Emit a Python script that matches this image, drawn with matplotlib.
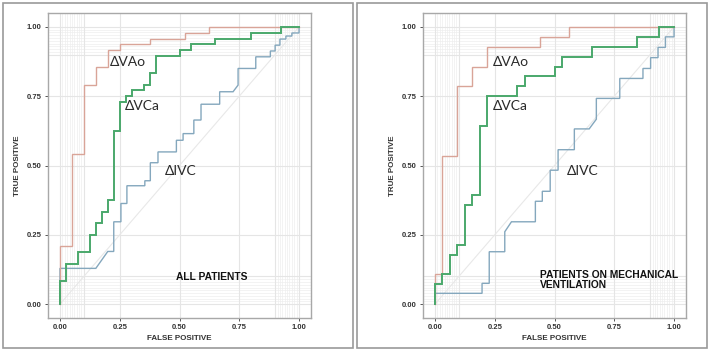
import matplotlib
matplotlib.use("Agg")
import matplotlib.pyplot as plt
from matplotlib.patches import Rectangle
import numpy as np

# ---------------- data ----------------
# left panel: all patients
all_vao_fp = [0, 0, 0.05, 0.05, 0.10, 0.10, 0.15, 0.15, 0.20, 0.20, 0.25, 0.25,
              0.375, 0.375, 0.525, 0.525, 0.625, 0.625, 1.0]
all_vao_tp = [0, 0.208, 0.208, 0.542, 0.542, 0.792, 0.792, 0.854, 0.854, 0.917,
              0.917, 0.938, 0.938, 0.958, 0.958, 0.979, 0.979, 1.0, 1.0]

all_vca_fp = [0, 0, 0.025, 0.025, 0.075, 0.075, 0.125, 0.125, 0.15, 0.15, 0.175,
              0.175, 0.20, 0.20, 0.225, 0.225, 0.25, 0.25, 0.275, 0.275, 0.30,
              0.30, 0.35, 0.35, 0.375, 0.375, 0.40, 0.40, 0.50, 0.50, 0.55, 0.55,
              0.65, 0.65, 0.80, 0.80, 0.925, 0.925, 1.0]
all_vca_tp = [0, 0.083, 0.083, 0.146, 0.146, 0.188, 0.188, 0.25, 0.25, 0.292,
              0.292, 0.333, 0.333, 0.375, 0.375, 0.625, 0.625, 0.729, 0.729, 0.75,
              0.75, 0.771, 0.771, 0.792, 0.792, 0.833, 0.833, 0.896, 0.896, 0.917,
              0.917, 0.938, 0.938, 0.958, 0.958, 0.979, 0.979, 1.0, 1.0]

all_ivc_fp = [0, 0, 0.15, 0.20, 0.225, 0.225, 0.255, 0.255, 0.28, 0.28, 0.355,
              0.355, 0.378, 0.378, 0.41, 0.41, 0.487, 0.487, 0.515, 0.515, 0.56,
              0.56, 0.59, 0.59, 0.668, 0.668, 0.724, 0.745, 0.745, 0.819, 0.819,
              0.88, 0.88, 0.90, 0.90, 0.92, 0.92, 0.945, 0.945, 0.97, 0.97, 1.0, 1.0]
all_ivc_tp = [0, 0.129, 0.129, 0.19, 0.19, 0.297, 0.297, 0.363, 0.363, 0.427,
              0.427, 0.445, 0.445, 0.51, 0.51, 0.549, 0.549, 0.591, 0.591, 0.615,
              0.615, 0.664, 0.664, 0.721, 0.721, 0.766, 0.766, 0.79, 0.85, 0.85,
              0.892, 0.892, 0.913, 0.913, 0.934, 0.934, 0.956, 0.956, 0.967, 0.967,
              0.978, 0.978, 1.0]

# right panel: patients on mechanical ventilation
mv_vao_fp = [0, 0, 0.031, 0.031, 0.094, 0.094, 0.156, 0.156, 0.219, 0.219,
             0.4375, 0.4375, 0.5625, 0.5625, 1.0]
mv_vao_tp = [0, 0.107, 0.107, 0.536, 0.536, 0.786, 0.786, 0.857, 0.857, 0.929,
             0.929, 0.964, 0.964, 1.0, 1.0]

mv_vca_fp = [0, 0, 0.031, 0.031, 0.0625, 0.0625, 0.094, 0.094, 0.125, 0.125,
             0.156, 0.156, 0.1875, 0.1875, 0.219, 0.219, 0.344, 0.344, 0.375,
             0.375, 0.50, 0.50, 0.531, 0.531, 0.656, 0.656, 0.844, 0.844, 0.9375,
             0.9375, 1.0]
mv_vca_tp = [0, 0.071, 0.071, 0.107, 0.107, 0.179, 0.179, 0.214, 0.214, 0.357,
             0.357, 0.393, 0.393, 0.643, 0.643, 0.75, 0.75, 0.786, 0.786, 0.821,
             0.821, 0.857, 0.857, 0.893, 0.893, 0.929, 0.929, 0.964, 0.964, 1.0,
             1.0]

mv_ivc_fp = [0, 0, 0.197, 0.197, 0.227, 0.227, 0.292, 0.292, 0.32, 0.42, 0.42,
             0.449, 0.449, 0.482, 0.482, 0.515, 0.515, 0.583, 0.583, 0.645, 0.675,
             0.675, 0.773, 0.773, 0.87, 0.87, 0.902, 0.902, 0.933, 0.933, 0.964,
             0.964, 1.0, 1.0]
mv_ivc_tp = [0, 0.039, 0.039, 0.075, 0.075, 0.189, 0.189, 0.261, 0.297, 0.297,
             0.371, 0.371, 0.407, 0.407, 0.483, 0.483, 0.557, 0.557, 0.632, 0.632,
             0.667, 0.742, 0.742, 0.814, 0.814, 0.85, 0.85, 0.889, 0.889, 0.926,
             0.926, 0.964, 0.964, 1.0]

tick_vals = [0, 0.25, 0.5, 0.75, 1.0]
tick_labels = ["0.00", "0.25", "0.50", "0.75", "1.00"]
major_grid = [0, 0.1, 0.25, 0.5, 0.75, 0.9, 1.0]
minor_grid = list(np.round(np.arange(0, 0.101, 0.01), 2)) + list(np.round(np.arange(0.9, 1.001, 0.01), 2))

COL_VAO = "#d9a498"
COL_VCA = "#4aa86b"
COL_IVC = "#84a7bd"

############################################################

fig = plt.figure(figsize=(7.09, 3.6), dpi=100)
fig.patch.set_facecolor("white")

# outer frames around each panel
for x0, w in [(3 / 709, 350 / 709), (357 / 709, 350 / 709)]:
    fig.patches.append(Rectangle((x0, 12 / 360), w, 345 / 360, transform=fig.transFigure,
                                 fill=False, edgecolor="#9a9a9a", linewidth=1.2))


def roc_panel(ax, curves, labels, title_lines, title_xy):
    ax.set_xlim(-0.05, 1.05)
    ax.set_ylim(-0.05, 1.05)
    for g in minor_grid:
        ax.axvline(g, color="#eeeeee", lw=0.5, zorder=0)
        ax.axhline(g, color="#eeeeee", lw=0.5, zorder=0)
    for g in major_grid:
        ax.axvline(g, color="#e5e5e5", lw=0.8, zorder=0)
        ax.axhline(g, color="#e5e5e5", lw=0.8, zorder=0)
    ax.plot([0, 1], [0, 1], color="#e8e8e8", lw=0.8, zorder=1)

    for fp, tp, col, lw in curves:
        ax.plot(fp, tp, color=col, lw=lw, zorder=3, solid_joinstyle="miter")

    for txt, (x, y) in labels:
        ax.text(x, y, txt, fontsize=10, family=["Lato", "DejaVu Sans"],
                color="#2a2a2a", va="center", ha="left")
    ax.text(title_xy[0], title_xy[1], "\n".join(title_lines), fontsize=7.4,
            fontweight="bold", family="Liberation Sans", color="#111111",
            va="center", ha="left", linespacing=1.1)

    ax.set_xticks(tick_vals)
    ax.set_xticklabels(tick_labels)
    ax.set_yticks(tick_vals)
    ax.set_yticklabels(tick_labels)
    ax.tick_params(length=2.5, width=0.7, color="#555555", pad=2)
    for lab in ax.get_xticklabels() + ax.get_yticklabels():
        lab.set_fontsize(5.5)
        lab.set_fontweight("bold")
        lab.set_family("Liberation Sans")
        lab.set_color("#333333")
    ax.set_xlabel("FALSE POSITIVE", fontsize=5.8, fontweight="bold",
                  family="Liberation Sans", color="#333333", labelpad=3)
    ax.set_ylabel("TRUE POSITIVE", fontsize=5.8, fontweight="bold",
                  family="Liberation Sans", color="#333333", labelpad=4)
    for sp in ax.spines.values():
        sp.set_color("#a8a8a8")
        sp.set_linewidth(1.0)


ax1 = fig.add_axes([48 / 709, 42 / 360, 263 / 709, 305 / 360])
roc_panel(ax1,
          [(all_ivc_fp, all_ivc_tp, COL_IVC, 1.0),
           (all_vao_fp, all_vao_tp, COL_VAO, 1.0),
           (all_vca_fp, all_vca_tp, COL_VCA, 1.4)],
          [("\u0394VAo", (0.208, 0.873)), ("\u0394VCa", (0.27, 0.714)),
           ("\u0394IVC", (0.438, 0.48))],
          ["ALL PATIENTS"], (0.485, 0.097))

ax2 = fig.add_axes([423 / 709, 42 / 360, 263 / 709, 305 / 360])
roc_panel(ax2,
          [(mv_ivc_fp, mv_ivc_tp, COL_IVC, 1.0),
           (mv_vao_fp, mv_vao_tp, COL_VAO, 1.0),
           (mv_vca_fp, mv_vca_tp, COL_VCA, 1.4)],
          [("\u0394VAo", (0.243, 0.873)), ("\u0394VCa", (0.243, 0.714)),
           ("\u0394IVC", (0.552, 0.48))],
          ["PATIENTS ON MECHANICAL", "VENTILATION"], (0.438, 0.087))

fig.savefig("out.png", dpi=100)
